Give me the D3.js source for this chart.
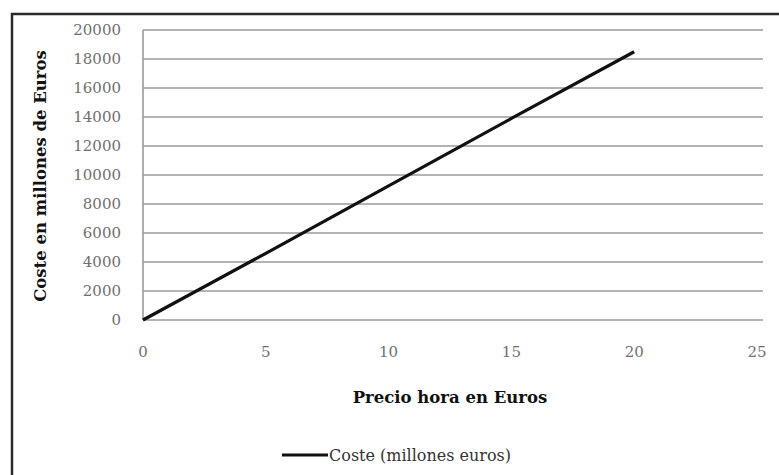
<!DOCTYPE html>
<html>
<head>
<meta charset="utf-8">
<script src="https://cdn.jsdelivr.net/npm/d3@7"></script>
<style>
  body { margin: 0; background: #fff; }
  text { font-family: "DejaVu Serif", "Liberation Serif", serif; }
</style>
</head>
<body>
<div id="container"></div>
<script>
/* DATA */
const precio = [0, 5, 10, 15, 20];
const coste = [0, 4600, 9250, 13900, 18500];
const xTicks = [0, 5, 10, 15, 20, 25];
const yTicks = [0, 2000, 4000, 6000, 8000, 10000, 12000, 14000, 16000, 18000, 20000];

/* CONSTANTS */
const width = 779, height = 475;
const margin = {top: 30, bottom: 155, left: 143, right: 20};

const svg = d3.select("#container")
  .append("svg")
  .attr("width", width)
  .attr("height", height);

// chart border
svg.append("rect")
  .attr("x", 12).attr("y", 14)
  .attr("width", 800).attr("height", 500)
  .attr("fill", "none")
  .attr("stroke", "#2a2a2a")
  .attr("stroke-width", 2.5);

/* SCALES */
const xScale = d3.scaleLinear()
  .domain([0, 25])
  .range([margin.left, 757]);

const yScale = d3.scaleLinear()
  .domain([0, 20000])
  .range([320, margin.top]);

// gridlines
svg.append("g")
  .selectAll("line")
  .data(yTicks)
  .join("line")
  .attr("x1", margin.left)
  .attr("x2", 763)
  .attr("y1", d => yScale(d))
  .attr("y2", d => yScale(d))
  .attr("stroke", "#9a9a9a")
  .attr("stroke-width", 1.6);

// y axis line
svg.append("line")
  .attr("x1", margin.left).attr("x2", margin.left)
  .attr("y1", yScale(20000)).attr("y2", yScale(0))
  .attr("stroke", "#9a9a9a")
  .attr("stroke-width", 1.6);

// y tick labels
svg.append("g")
  .selectAll("text")
  .data(yTicks)
  .join("text")
  .attr("x", 121)
  .attr("y", d => yScale(d))
  .attr("dy", "0.35em")
  .attr("text-anchor", "end")
  .attr("fill", "#707070")
  .style("font-size", "15px")
  .text(d => d);

// x tick labels
svg.append("g")
  .selectAll("text")
  .data(xTicks)
  .join("text")
  .attr("x", d => xScale(d))
  .attr("y", 352)
  .attr("dy", "0.35em")
  .attr("text-anchor", "middle")
  .attr("fill", "#707070")
  .style("font-size", "15px")
  .text(d => d);

// line
const line = d3.line()
  .x((d, i) => xScale(precio[i]))
  .y(d => yScale(d));

svg.append("path")
  .datum(coste)
  .attr("d", line)
  .attr("fill", "none")
  .attr("stroke", "#111")
  .attr("stroke-width", 3.2);

// axis titles
svg.append("text")
  .attr("x", 450)
  .attr("y", 397)
  .attr("dy", "0.35em")
  .attr("text-anchor", "middle")
  .attr("font-weight", "bold")
  .attr("fill", "#111")
  .style("font-size", "16.5px")
  .text("Precio hora en Euros");

svg.append("text")
  .attr("transform", "translate(40,176) rotate(-90)")
  .attr("dy", "0.35em")
  .attr("text-anchor", "middle")
  .attr("font-weight", "bold")
  .attr("fill", "#111")
  .style("font-size", "16.5px")
  .text("Coste en millones de Euros");

// legend
svg.append("line")
  .attr("x1", 282).attr("x2", 328)
  .attr("y1", 455).attr("y2", 455)
  .attr("stroke", "#111")
  .attr("stroke-width", 3.2);

svg.append("text")
  .attr("x", 329)
  .attr("y", 455)
  .attr("dy", "0.35em")
  .attr("fill", "#333")
  .style("font-size", "16px")
  .text("Coste (millones euros)");
</script>
</body>
</html>
